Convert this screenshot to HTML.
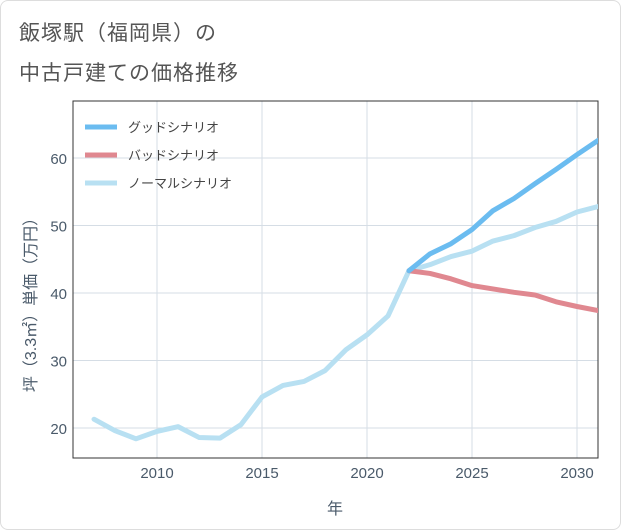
<!DOCTYPE html>
<html><head><meta charset="utf-8">
<style>
body{margin:0;background:#fff;font-family:"Liberation Sans","Noto Sans CJK JP",sans-serif;}
#card{position:absolute;left:0;top:0;width:619px;height:528px;border:1px solid #ddd;border-radius:8px;background:#fff;}
.t{position:absolute;left:18px;font-size:21px;color:#555;letter-spacing:1px;}
</style></head><body>
<div id="card">
<div class="t" style="top:16px">飯塚駅（福岡県）の</div>
<div class="t" style="top:56px">中古戸建ての価格推移</div>
<svg id="svg" width="621" height="530" style="position:absolute;left:0;top:0"></svg>
</div>
<script>
const years=[2007,2008,2009,2010,2011,2012,2013,2014,2015,2016,2017,2018,2019,2020,2021,2022,2023,2024,2025,2026,2027,2028,2029,2030,2031];
const normal=[21.3,19.6,18.4,19.5,20.2,18.6,18.5,20.5,24.6,26.3,26.9,28.5,31.6,33.8,36.6,43.3,44.2,45.4,46.2,47.7,48.5,49.7,50.6,52.0,52.8];
const fyears=[2022,2023,2024,2025,2026,2027,2028,2029,2030,2031];
const good=[43.3,45.8,47.3,49.4,52.2,54.0,56.2,58.3,60.5,62.6];
const bad=[43.3,42.9,42.1,41.1,40.6,40.1,39.7,38.7,38.0,37.4];
const xTicks=[2010,2015,2020,2025,2030];
const yTicks=[20,30,40,50,60];
const L=72,R=597,T=100,B=457;
const x=v=>156+(v-2010)*21;
const y=v=>427-(v-20)*6.75;
const svg=document.getElementById('svg');
const NS='http://www.w3.org/2000/svg';
function mk(t,a,p){const e=document.createElementNS(NS,t);for(const k in a)e.setAttribute(k,a[k]);(p||svg).appendChild(e);return e;}
const grid=mk('g',{});


xTicks.forEach(v=>{mk('line',{x1:x(v),x2:x(v),y1:T,y2:B,stroke:'#d5dde5','stroke-width':1},grid);
const t=mk('text',{x:x(v),y:B+20,'text-anchor':'middle','font-size':15,fill:'#4a5a6a'});t.textContent=v;

});
yTicks.forEach(v=>{mk('line',{x1:L,x2:R,y1:y(v),y2:y(v),stroke:'#d5dde5','stroke-width':1},grid);
const t=mk('text',{x:L-6,y:y(v)+6,'text-anchor':'end','font-size':15,fill:'#4a5a6a'});t.textContent=v;

});
const fr=mk('rect',{x:L,y:T,width:R-L,height:B-T,fill:'none',stroke:'#333','stroke-width':1});


const clip=mk('clipPath',{id:'c'});mk('rect',{x:L,y:T,width:R-L,height:B-T},clip);
function line(xs,ys,col,name){const p=mk('polyline',{points:xs.map((v,i)=>x(v)+','+y(ys[i])).join(' '),fill:'none',stroke:col,'stroke-width':5,'stroke-linejoin':'round','stroke-linecap':'round','clip-path':'url(#c)'});

}
line(years,normal,'#b8e0f2','normal-series-line');
line(fyears,bad,'#e08890','bad-series-line');
line(fyears,good,'#6bbcf0','good-series-line');
const leg=[['グッドシナリオ','#6bbcf0'],['バッドシナリオ','#e08890'],['ノーマルシナリオ','#b8e0f2']];
leg.forEach((l,i)=>{const g=mk('g',{});


mk('line',{x1:84,x2:116,y1:126+28*i,y2:126+28*i,stroke:l[1],'stroke-width':5},g);
const t=mk('text',{x:127,y:131+28*i,'font-size':13,fill:'#444'},g);t.textContent=l[0];});
const xt=mk('text',{x:334,y:513,'text-anchor':'middle','font-size':16,fill:'#4a5a6a'});xt.textContent='年';


const yt=mk('text',{x:0,y:0,'text-anchor':'middle','font-size':16,fill:'#4a5a6a',transform:'translate(35,300) rotate(-90)'});yt.textContent='坪（3.3㎡）単価（万円）';


</script>
</body></html>
